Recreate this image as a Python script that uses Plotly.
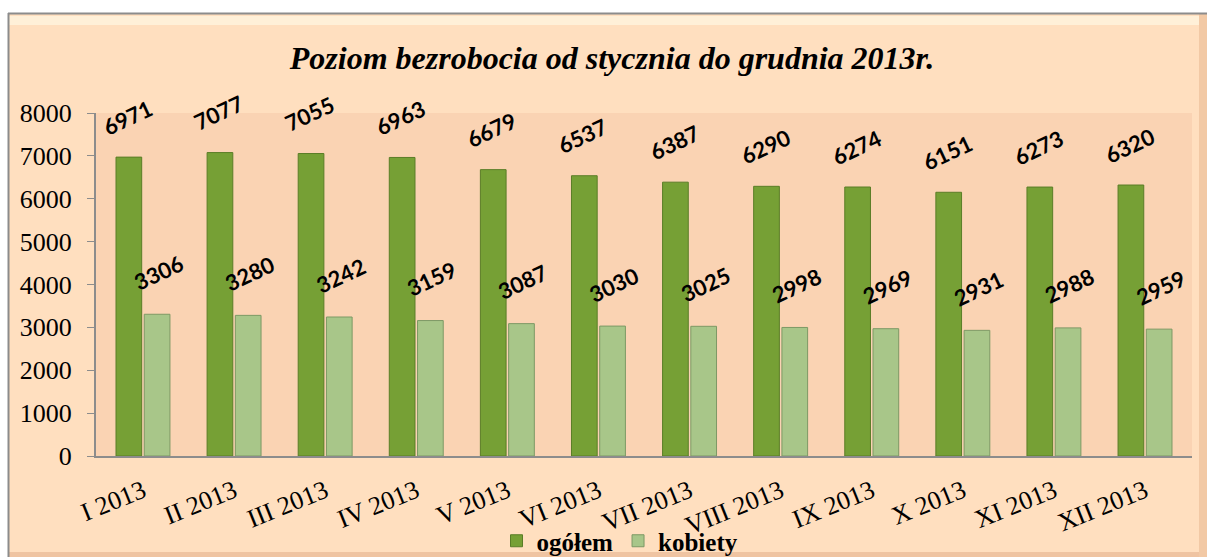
import plotly.graph_objects as go

categories = ["I 2013", "II 2013", "III 2013", "IV 2013", "V 2013", "VI 2013",
              "VII 2013", "VIII 2013", "IX 2013", "X 2013", "XI 2013", "XII 2013"]
ogolem = [6971, 7077, 7055, 6963, 6679, 6537, 6387, 6290, 6274, 6151, 6273, 6320]
kobiety = [3306, 3280, 3242, 3159, 3087, 3030, 3025, 2998, 2969, 2931, 2988, 2959]
y_ticks = [0, 1000, 2000, 3000, 4000, 5000, 6000, 7000, 8000]

W, H = 1207, 557
L, R, T, B = 96, 15, 113, 101
pw, ph = W - L - R, H - T - B

SERIF = "Liberation Serif, Times New Roman, serif"

def px_x(p):
    return (p - L) / pw

def px_y(p):
    return (H - B - p) / ph

fig = go.Figure()
fig.add_trace(go.Bar(
    name="ogółem", x=categories, y=ogolem,
    marker=dict(color="#76A035", line=dict(color="#5A7D27", width=1)),
))
fig.add_trace(go.Bar(
    name="kobiety", x=categories, y=kobiety,
    marker=dict(color="#A8C689", line=dict(color="#7D9965", width=1)),
))

annotations = []
for c, v in zip(categories, ogolem):
    annotations.append(dict(x=c, y=v, text=str(v), showarrow=False, textangle=-25,
                            xshift=-15.5, yshift=40, xanchor="center", yanchor="middle",
                            font=dict(family="Lato", size=22, color="black", weight="bold")))
for c, v in zip(categories, kobiety):
    annotations.append(dict(x=c, y=v, text=str(v), showarrow=False, textangle=-25,
                            xshift=15.5, yshift=42, xanchor="center", yanchor="middle",
                            font=dict(family="Lato", size=22, color="black", weight="bold")))

shapes = [
    dict(type="rect", xref="paper", yref="paper", x0=px_x(-5), x1=px_x(W + 5),
         y0=px_y(13), y1=px_y(-5), fillcolor="white", line=dict(width=0), layer="above"),
    dict(type="rect", xref="paper", yref="paper", x0=px_x(-5), x1=px_x(8),
         y0=px_y(H + 5), y1=px_y(-5), fillcolor="white", line=dict(width=0), layer="above"),
    dict(type="rect", xref="paper", yref="paper", x0=px_x(9), x1=px_x(1199),
         y0=px_y(25), y1=px_y(16), fillcolor="#FFF0D8", line=dict(width=0), layer="above"),
    dict(type="rect", xref="paper", yref="paper", x0=px_x(1199), x1=px_x(W + 5),
         y0=px_y(H + 5), y1=px_y(14), fillcolor="#F2C9A5", line=dict(width=0), layer="above"),
    dict(type="rect", xref="paper", yref="paper", x0=px_x(9), x1=px_x(1199),
         y0=px_y(H + 5), y1=px_y(552), fillcolor="#EFC4A2", line=dict(width=0), layer="above"),
    dict(type="line", xref="paper", yref="paper", x0=px_x(8), x1=px_x(W + 5),
         y0=px_y(13.5), y1=px_y(13.5), line=dict(color="#8C8C8C", width=2), layer="above"),
    dict(type="line", xref="paper", yref="paper", x0=px_x(8.5), x1=px_x(8.5),
         y0=px_y(13), y1=px_y(H + 5), line=dict(color="#8C8C8C", width=2), layer="above"),
]

fig.update_layout(
    width=W, height=H,
    margin=dict(l=L, r=R, t=T, b=B, autoexpand=False),
    paper_bgcolor="#FFDFBF",
    plot_bgcolor="#FAD3B3",
    barmode="group", bargap=0.38, bargroupgap=0.09,
    title=dict(text="Poziom bezrobocia od stycznia do grudnia 2013r.",
               x=612 / W, xanchor="center", xref="container", y=1 - 58 / H, yanchor="middle",
               font=dict(family=SERIF, size=32, color="black",
                         weight="bold", style="italic")),
    xaxis=dict(type="category", tickangle=-22, showline=True, linecolor="#8C8C8C",
               linewidth=2, ticks="", showgrid=False, automargin=False,
               ticklabelstandoff=8,
               tickfont=dict(family=SERIF, size=26, color="black")),
    yaxis=dict(range=[0, 8000], tickvals=y_ticks, showline=True, linecolor="#8C8C8C",
               linewidth=2, ticks="outside", ticklen=7, tickcolor="#8C8C8C",
               showgrid=False, zeroline=False, automargin=False, ticklabelstandoff=10,
               tickfont=dict(family=SERIF, size=26, color="black")),
    legend=dict(orientation="h", x=0.5 - 24 / pw, xanchor="center", yref="container",
                y=1 - 541 / H, yanchor="middle",
                bgcolor="rgba(0,0,0,0)", itemwidth=30, tracegroupgap=0,
                font=dict(family=SERIF, size=25, color="black", weight="bold")),
    annotations=annotations,
    shapes=shapes,
)

fig.write_html("out.html", config={"displayModeBar": False},
               post_script="document.body.style.margin='0';document.body.style.padding='0';")
